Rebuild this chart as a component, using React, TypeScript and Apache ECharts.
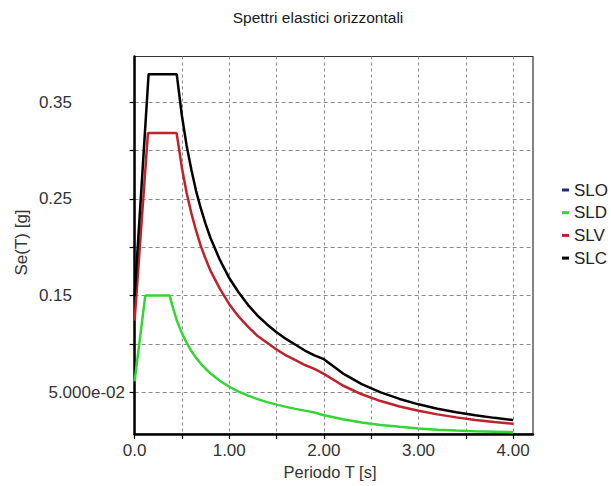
import React, { useEffect, useRef } from "react";
import * as echarts from "echarts";

const seriesNames = ["SLO", "SLD", "SLV", "SLC"];

const sloT: number[] = [];
const sloSe: number[] = [];

const sldT = [0, 0.113, 0.37, 0.4, 0.45, 0.5, 0.55, 0.6, 0.65, 0.7, 0.8, 0.9, 1.0, 1.1, 1.2, 1.3, 1.4, 1.5, 1.6, 1.7, 1.8, 1.9, 2.0, 2.2, 2.4, 2.6, 2.8, 3.0, 3.2, 3.4, 3.6, 3.8, 4.0];
const sldSe = [0.061, 0.15, 0.15, 0.139, 0.123, 0.111, 0.101, 0.0925, 0.0854, 0.0793, 0.0694, 0.0617, 0.0555, 0.0505, 0.0463, 0.0427, 0.0396, 0.037, 0.0347, 0.0326, 0.0308, 0.0288, 0.026, 0.0218, 0.0185, 0.016, 0.014, 0.0122, 0.011, 0.0102, 0.0095, 0.009, 0.0085];

const slvT = [0, 0.141, 0.444, 0.5, 0.55, 0.6, 0.65, 0.7, 0.75, 0.8, 0.9, 1.0, 1.1, 1.2, 1.3, 1.4, 1.5, 1.6, 1.7, 1.8, 1.9, 2.0, 2.2, 2.4, 2.6, 2.8, 3.0, 3.2, 3.4, 3.6, 3.8, 4.0];
const slvSe = [0.124, 0.318, 0.318, 0.282, 0.256, 0.235, 0.217, 0.201, 0.188, 0.176, 0.157, 0.141, 0.128, 0.1175, 0.108, 0.101, 0.094, 0.088, 0.083, 0.078, 0.074, 0.0688, 0.0568, 0.0477, 0.0407, 0.0351, 0.0306, 0.0269, 0.0238, 0.0212, 0.019, 0.0172];

const slcT = [0, 0.148, 0.445, 0.5, 0.55, 0.6, 0.65, 0.7, 0.75, 0.8, 0.9, 1.0, 1.1, 1.2, 1.3, 1.4, 1.5, 1.6, 1.7, 1.8, 1.9, 2.0, 2.2, 2.4, 2.6, 2.8, 3.0, 3.2, 3.4, 3.6, 3.8, 4.0];
const slcSe = [0.149, 0.379, 0.379, 0.336, 0.305, 0.28, 0.258, 0.24, 0.224, 0.21, 0.187, 0.168, 0.153, 0.14, 0.129, 0.12, 0.112, 0.105, 0.099, 0.093, 0.088, 0.084, 0.0694, 0.0583, 0.0497, 0.0429, 0.0373, 0.0328, 0.0291, 0.0259, 0.0233, 0.021];

const xTickValues = [0, 0.5, 1, 1.5, 2, 2.5, 3, 3.5, 4];
const xLabelValues = [0, 1, 2, 3, 4];
const yTickValues = [0.05, 0.1, 0.15, 0.2, 0.25, 0.3, 0.35];
const yLabelValues = [0.05, 0.15, 0.25, 0.35];

const seriesColors = ["#1f2a7a", "#33d633", "#c0222c", "#000000"];

const zip = (t: number[], v: number[]) => t.map((x, i) => [x, v[i]]);

const FONT = "'Liberation Sans', Arial, sans-serif";

export default function App() {
  const ref = useRef<HTMLDivElement>(null);
  useEffect(() => {
    document.body.style.margin = "0";
    if (!ref.current) return;
    const chart = echarts.init(ref.current, undefined, { renderer: "svg" });
    const datasets = [zip(sloT, sloSe), zip(sldT, sldSe), zip(slvT, slvSe), zip(slcT, slcSe)];
    chart.setOption({
      animation: false,
      backgroundColor: "#ffffff",
      textStyle: { fontFamily: FONT },
      grid: {
        left: 134.6,
        top: 56.5,
        right: 78,
        bottom: 52,
        show: true,
        borderColor: "#333",
        borderWidth: 1.2,
        containLabel: false,
      },
      graphic: [
        {
          type: "text",
          x: 318,
          y: 17,
          style: {
            text: "Spettri elastici orizzontali",
            fontSize: 15.5,
            fontFamily: FONT,
            fill: "#1a1a1a",
            align: "center",
            verticalAlign: "middle",
          },
        },
        {
          type: "text",
          x: 330,
          y: 471.5,
          style: {
            text: "Periodo T [s]",
            fontSize: 16.5,
            fontFamily: FONT,
            fill: "#333",
            align: "center",
            verticalAlign: "middle",
          },
        },
        {
          type: "text",
          x: 21,
          y: 242.5,
          rotation: Math.PI / 2,
          style: {
            text: "Se(T) [g]",
            fontSize: 17,
            fontFamily: FONT,
            fill: "#333",
            align: "center",
            verticalAlign: "middle",
          },
        },
      ],
      legend: {
        data: seriesNames,
        orient: "vertical",
        left: 562,
        top: 181.5,
        padding: 0,
        icon: "rect",
        itemWidth: 7,
        itemHeight: 3,
        itemGap: 5.7,
        textStyle: { fontSize: 17, lineHeight: 17, color: "#222", fontFamily: FONT },
      },
      xAxis: {
        type: "value",
        min: 0,
        max: 4.21,
        interval: 0.5,
        axisLine: { show: true, lineStyle: { color: "#000", width: 2.5 } },
        axisTick: { show: true, length: 5, customValues: xTickValues, lineStyle: { color: "#000", width: 1.2 } },
        axisLabel: {
          customValues: xLabelValues,
          margin: 8,
          fontSize: 17,
          color: "#333",
          fontFamily: FONT,
          formatter: (v: number) => (v === 0 ? "0.0" : v.toFixed(2)),
        },
        splitLine: { show: true, lineStyle: { color: "#8a8a8a", width: 1, type: [3, 3] } },
      },
      yAxis: {
        type: "value",
        min: 0.0066,
        max: 0.3973,
        axisLine: { show: true, onZero: false, lineStyle: { color: "#000", width: 2.5 } },
        axisTick: { show: true, length: 5, customValues: yTickValues, lineStyle: { color: "#000", width: 1.2 } },
        axisLabel: {
          customValues: yLabelValues,
          margin: 9.6,
          fontSize: 17,
          color: "#333",
          fontFamily: FONT,
          formatter: (v: number) =>
            Math.abs(v - 0.05) < 1e-9 ? "{e|5.000e-02}" : "{n|" + v.toFixed(2) + "}",
          rich: {
            e: { fontSize: 17, color: "#333", fontFamily: FONT },
            n: { fontSize: 17, color: "#333", fontFamily: FONT, padding: [0, 53, 0, 0] },
          },
        },
        splitLine: { show: true, lineStyle: { color: "#8a8a8a", width: 1, type: [4, 3] } },
      },
      series: seriesNames.map((name, i) => ({
        name,
        type: "line",
        data: datasets[i],
        symbol: "none",
        showSymbol: false,
        color: seriesColors[i],
        lineStyle: { color: seriesColors[i], width: 2.5 },
        z: 3 + i,
      })),
    });
    return () => chart.dispose();
  }, []);
  return <div ref={ref} style={{ width: 611, height: 486 }} />;
}
